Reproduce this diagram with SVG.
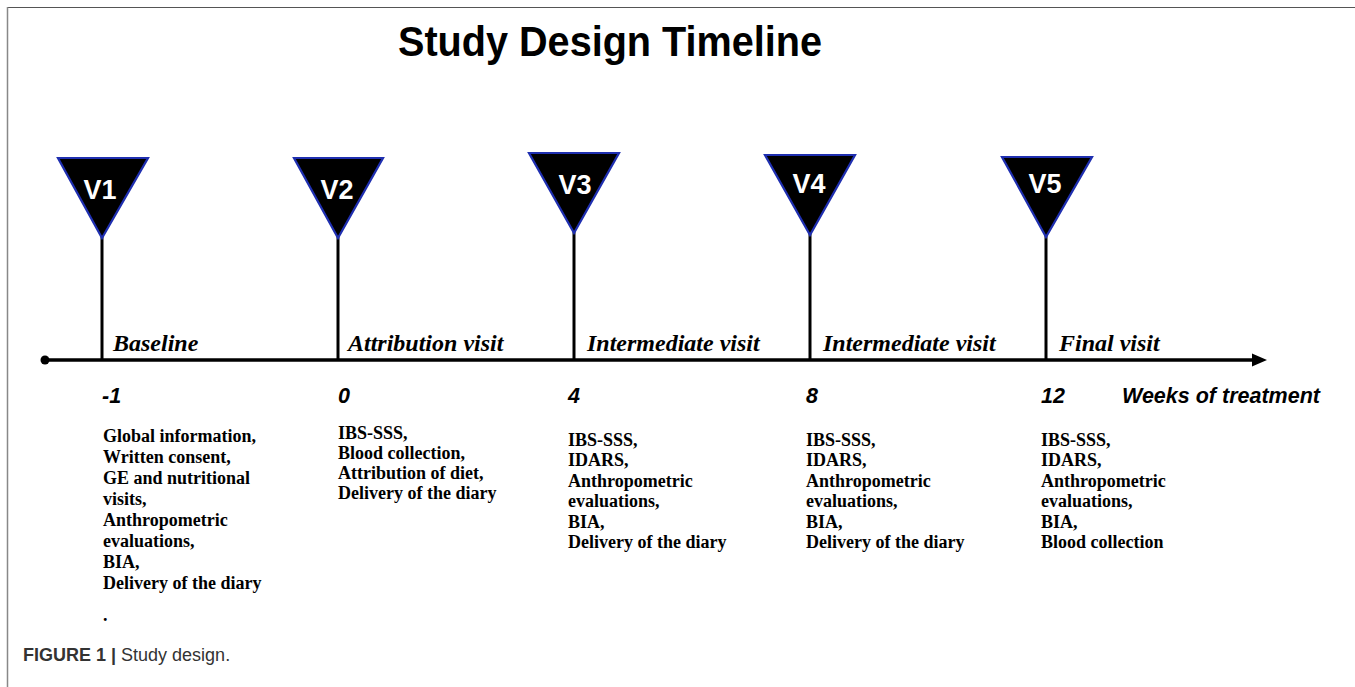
<svg xmlns="http://www.w3.org/2000/svg" width="1355" height="687" viewBox="0 0 1355 687">
<style>
.tri{fill:#000;stroke:#1f2fb0;stroke-width:2.2;stroke-linejoin:miter}
.vl{fill:#fff;font-family:"Liberation Sans",Arial,sans-serif;font-weight:bold;font-size:27px;text-anchor:middle}
.stem{stroke:#000;stroke-width:3}
.ax{stroke:#000;stroke-width:3.5}
.lab{font-family:"Liberation Serif","Times New Roman",serif;font-weight:bold;font-style:italic;font-size:24px;fill:#000}
.num{font-family:"Liberation Sans",Arial,sans-serif;font-weight:bold;font-style:italic;font-size:21.5px;fill:#000}
.body{font-family:"Liberation Serif","Times New Roman",serif;font-weight:bold;font-size:18px;fill:#000}
</style>
<rect width="1355" height="687" fill="#fff"/>
<line x1="7" y1="7.5" x2="1355" y2="7.5" stroke="#555" stroke-width="1.2"/>
<line x1="7.5" y1="7" x2="7.5" y2="687" stroke="#888" stroke-width="1.5"/>
<text x="398" y="56" font-family="Liberation Sans,Arial,sans-serif" font-weight="bold" font-size="42" textLength="424" lengthAdjust="spacingAndGlyphs">Study Design Timeline</text>
<g id="connectors">
<line class="ax" x1="45" y1="360" x2="1254" y2="360"/>
<polygon points="1252,353.5 1267,360 1252,366.5" fill="#000"/>
<circle cx="45" cy="360" r="4.5" fill="#000"/>
<line class="stem" x1="102" y1="236" x2="102" y2="360"/>
<line class="stem" x1="338" y1="236" x2="338" y2="360"/>
<line class="stem" x1="574" y1="231" x2="574" y2="360"/>
<line class="stem" x1="810" y1="233" x2="810" y2="360"/>
<line class="stem" x1="1046" y1="235" x2="1046" y2="360"/>
</g>
<g id="v1">
<polygon class="tri" points="58,158 148,158 102,238"/>
<text class="vl" x="100" y="199">V1</text>
<text class="lab" x="113" y="351">Baseline</text>
<text class="num" x="102" y="403">-1</text>
<text class="body"><tspan x="103" y="442">Global information,</tspan><tspan x="103" y="463">Written consent,</tspan><tspan x="103" y="484">GE and nutritional</tspan><tspan x="103" y="505">visits,</tspan><tspan x="103" y="526">Anthropometric</tspan><tspan x="103" y="547">evaluations,</tspan><tspan x="103" y="568">BIA,</tspan><tspan x="103" y="589">Delivery of the diary</tspan><tspan x="103" y="621">.</tspan></text>
</g>
<g id="v2">
<polygon class="tri" points="294,158 383,158 338,238"/>
<text class="vl" x="337" y="199">V2</text>
<text class="lab" x="348" y="351">Attribution visit</text>
<text class="num" x="338" y="403">0</text>
<text class="body"><tspan x="338" y="439">IBS-SSS,</tspan><tspan x="338" y="459">Blood collection,</tspan><tspan x="338" y="479">Attribution of diet,</tspan><tspan x="338" y="499">Delivery of the diary</tspan></text>
</g>
<g id="v3">
<polygon class="tri" points="529,153 619,153 574,233"/>
<text class="vl" x="575" y="194">V3</text>
<text class="lab" x="587" y="351">Intermediate visit</text>
<text class="num" x="568" y="403">4</text>
<text class="body"><tspan x="568" y="446">IBS-SSS,</tspan><tspan x="568" y="466.4">IDARS,</tspan><tspan x="568" y="486.8">Anthropometric</tspan><tspan x="568" y="507.2">evaluations,</tspan><tspan x="568" y="527.6">BIA,</tspan><tspan x="568" y="548">Delivery of the diary</tspan></text>
</g>
<g id="v4">
<polygon class="tri" points="765,155 855,155 810,235"/>
<text class="vl" x="809" y="193">V4</text>
<text class="lab" x="823" y="351">Intermediate visit</text>
<text class="num" x="806" y="403">8</text>
<text class="body"><tspan x="806" y="446">IBS-SSS,</tspan><tspan x="806" y="466.4">IDARS,</tspan><tspan x="806" y="486.8">Anthropometric</tspan><tspan x="806" y="507.2">evaluations,</tspan><tspan x="806" y="527.6">BIA,</tspan><tspan x="806" y="548">Delivery of the diary</tspan></text>
</g>
<g id="v5">
<polygon class="tri" points="1002,157 1092,157 1046,237"/>
<text class="vl" x="1045" y="193">V5</text>
<text class="lab" x="1059" y="351">Final visit</text>
<text class="num" x="1041" y="403">12</text>
<text class="body"><tspan x="1041" y="446">IBS-SSS,</tspan><tspan x="1041" y="466.4">IDARS,</tspan><tspan x="1041" y="486.8">Anthropometric</tspan><tspan x="1041" y="507.2">evaluations,</tspan><tspan x="1041" y="527.6">BIA,</tspan><tspan x="1041" y="548">Blood collection</tspan></text>
</g>
<text class="num" x="1122" y="403">Weeks of treatment</text>
<text x="23" y="661" font-family="Liberation Sans,Arial,sans-serif" font-size="18" fill="#333"><tspan font-weight="bold">FIGURE 1 | </tspan>Study design.</text>
</svg>
